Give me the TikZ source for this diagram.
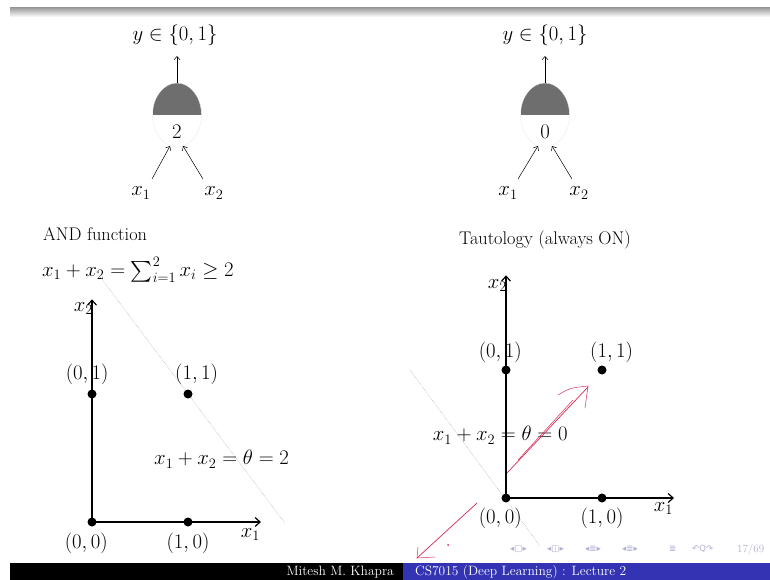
\documentclass[tikz,border=0pt]{standalone}
\usepackage{amsmath}
\usepackage{fontspec}
\newfontfamily\dejavu{DejaVu Sans}
\usetikzlibrary{shapes.geometric,arrows.meta}
\definecolor{neurongray}{RGB}{110,110,110}
\definecolor{annred}{RGB}{215,45,85}
\definecolor{barblue}{RGB}{51,51,179}
\definecolor{navgray}{RGB}{175,175,210}
\begin{document}
\begin{tikzpicture}[x=1pt,y=-1pt,
  txt/.style={font=\fontsize{18.3}{22}\selectfont, inner sep=0pt},
  mtxt/.style={font=\fontsize{19.8}{24}\selectfont, inner sep=0pt},
  neuron/.style={ellipse, minimum width=49pt, minimum height=64pt, inner sep=0pt,
    draw=gray!15, path picture={\fill[neurongray] (path picture bounding box.north west) rectangle (path picture bounding box.east);}},
  arr/.style={-{Straight Barb[length=3.5pt,width=6pt]}, line width=0.5pt},
  axis/.style={line width=1.2pt, -{Straight Barb[length=5pt,width=9pt]}},
  dot/.style={circle, fill=black, minimum size=9pt, inner sep=0pt},
  sepline/.style={densely dotted, gray!70, line width=0.5pt},
  ann/.style={annred, line width=0.7pt, line cap=round},
  nav/.style={font=\dejavu\fontsize{8.5}{10}\selectfont, text=navgray, inner sep=0pt},
  bartext/.style={font=\fontsize{13.5}{15}\selectfont, text=white, inner sep=0pt}]
\useasboundingbox (0,0) rectangle (770,580);
\fill[white] (0,0) rectangle (770,580);
% top bar
\shade[top color=gray!75, bottom color=white] (10,8) rectangle (770,17);
% bottom bar
\fill[black] (10,563) rectangle (403,580);
\fill[barblue] (403,563) rectangle (770,580);
\node[bartext, anchor=east] (author) at (394,572) {Mitesh M. Khapra};
\node[bartext, anchor=west] (course) at (415,572) {CS7015 (Deep Learning) : Lecture 2};

% ---------- left neuron ----------
\node[neuron] (n1) at (177,115) {};
\node[mtxt] (v1) at (177,132) {$2$};
\node[mtxt] (y1) at (175,35) {$y\in\{0,1\}$};
\coordinate (t1) at (177,56);
\draw[arr] (n1.north) -- (t1);
\node[mtxt] (x11) at (141,193) {$x_1$};
\node[mtxt] (x12) at (214,193) {$x_2$};
\coordinate (s11) at (152,179);
\coordinate (e11) at (170,146);
\coordinate (s12) at (203,179);
\coordinate (e12) at (183,146);
\draw[arr] (s11) -- (e11);
\draw[arr] (s12) -- (e12);

% ---------- right neuron ----------
\node[neuron] (n2) at (545,115) {};
\node[mtxt] (v2) at (545,132) {$0$};
\node[mtxt] (y2) at (545,35) {$y\in\{0,1\}$};
\coordinate (t2) at (545,56);
\draw[arr] (n2.north) -- (t2);
\node[mtxt] (x21) at (508,193) {$x_1$};
\node[mtxt] (x22) at (579,193) {$x_2$};
\coordinate (s21) at (518,179);
\coordinate (e21) at (538,146);
\coordinate (s22) at (572,179);
\coordinate (e22) at (552,146);
\draw[arr] (s21) -- (e21);
\draw[arr] (s22) -- (e22);

% ---------- texts ----------
\node[txt, anchor=west] (andl) at (43,234) {AND function};
\node[mtxt, anchor=west] (andf) at (42,270) {$x_1+x_2=\sum_{i=1}^2 x_i\geq 2$};
\node[txt] (taut) at (545,240) {Tautology (always ON)};

% ---------- left plot ----------
\begin{scope}[shift={(92pt,-522pt)}, x=96pt, y=128pt]
  \draw[sepline] (0.04,1.96) -- (2.01,-0.01);
  \node[mtxt] (a01) at (-0.05,1.15) {$(0,1)$};
  \node[mtxt] (a11) at (1.09,1.15) {$(1,1)$};
  \node[mtxt] (a00) at (-0.06,-0.17) {$(0,0)$};
  \node[mtxt] (a10) at (1.0,-0.17) {$(1,0)$};
  \node[mtxt] (ax2) at (-0.09,1.67) {$x_2$};
  \node[mtxt] (ax1) at (1.65,-0.10) {$x_1$};
  \node[mtxt] (aeq) at (1.35,0.49) {$x_1+x_2=\theta=2$};
  \coordinate (ao) at (0,0);
  \coordinate (ayend) at (0,1.74);
  \coordinate (axend) at (1.76,0);
  \draw[axis] (ao) -- (ayend);
  \draw[axis] (ao) -- (axend);
  \node[dot] (p00) at (0,0) {};
  \node[dot] (p01) at (0,1) {};
  \node[dot] (p11) at (1,1) {};
  \node[dot] (p10) at (1,0) {};
\end{scope}

% ---------- right plot ----------
\begin{scope}[shift={(506pt,-498pt)}, x=96pt, y=128pt]
  \draw[sepline] (-1,1) -- (0.35,-0.37);
  \node[mtxt] (b01) at (-0.06,1.14) {$(0,1)$};
  \node[mtxt] (b11) at (1.10,1.14) {$(1,1)$};
  \node[mtxt] (b00) at (-0.06,-0.16) {$(0,0)$};
  \node[mtxt] (b10) at (1.0,-0.16) {$(1,0)$};
  \node[mtxt] (bx2) at (-0.09,1.66) {$x_2$};
  \node[mtxt] (bx1) at (1.64,-0.08) {$x_1$};
  \node[mtxt] (beq) at (-0.06,0.49) {$x_1+x_2=\theta=0$};
  \coordinate (bo) at (0,0);
  \coordinate (byend) at (0,1.74);
  \coordinate (bxend) at (1.75,0);
  \draw[axis] (bo) -- (byend);
  \draw[axis] (bo) -- (bxend);
  \node[dot] (q00) at (0,0) {};
  \node[dot] (q01) at (0,1) {};
  \node[dot] (q11) at (1,1) {};
  \node[dot] (q10) at (1,0) {};
\end{scope}

% ---------- red annotations ----------
\draw[ann] (507,473) -- (588,387);
\draw[ann, line width=0.5pt] (518,460) -- (573,400);
\draw[ann, line width=0.5pt] (558,395) .. controls (570,388) .. (588,386) -- (585,408);
\draw[ann] (477,503) -- (417,558);
\draw[ann, line width=0.5pt] (418,547) -- (417,558) -- (435,557);
\fill[annred] (448,545) circle (1pt);

% ---------- navigation symbols ----------
\node[nav, anchor=west] (nav1) at (510,549) {◂□▸};
\node[nav, anchor=west] (nav2) at (547,549) {◂◫▸};
\node[nav, anchor=west] (nav3) at (585,549) {◂≣▸};
\node[nav, anchor=west] (nav4) at (622,549) {◂≣▸};
\node[nav, anchor=west] (nav5) at (669,549) {≣};
\node[nav, anchor=west] (nav6) at (692,549) {↶Q↷};
\node[nav, anchor=west, font=\fontsize{11}{12}\selectfont] (page) at (737,550) {17/69};
\end{tikzpicture}
\end{document}
